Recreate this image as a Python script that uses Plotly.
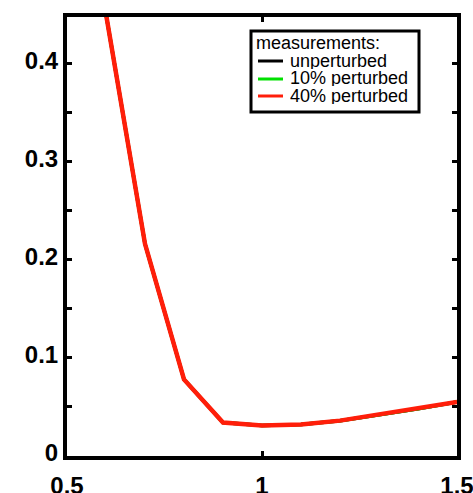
import plotly.graph_objects as go

# Parameter values and the measured quantity for each measurement set
x_values = [0.6, 0.7, 0.8, 0.9, 1.0, 1.1, 1.2, 1.3, 1.4, 1.5]
unperturbed = [0.45, 0.216, 0.078, 0.034, 0.031, 0.032, 0.036, 0.042, 0.048, 0.055]
perturbed_10 = [0.45, 0.216, 0.078, 0.034, 0.031, 0.032, 0.036, 0.042, 0.048, 0.055]
perturbed_40 = [0.45, 0.216, 0.078, 0.034, 0.031, 0.032, 0.036, 0.042, 0.048, 0.055]

series_names = ["unperturbed", "10% perturbed", "40% perturbed"]
series_colors = ["#000000", "#00e000", "#ff1e0a"]
series_widths = [3.5, 3.5, 4.5]
legend_title = "measurements:"

x_ticks = [0.5, 1, 1.5]
x_tick_text = ["0.5", "1", "1.5"]
y_ticks = [0, 0.1, 0.2, 0.3, 0.4]
y_tick_text = ["0", "0.1", "0.2", "0.3", "0.4"]

fig = go.Figure()
for name, ys, color, w in zip(series_names, [unperturbed, perturbed_10, perturbed_40],
                              series_colors, series_widths):
    fig.add_trace(go.Scatter(x=x_values, y=ys, mode="lines", name=name,
                             line=dict(color=color, width=w), showlegend=False))

axis_common = dict(showline=True, linewidth=4, linecolor="black", mirror="allticks",
                   ticks="inside", ticklen=5, tickwidth=3, tickcolor="black",
                   showgrid=False, zeroline=False, automargin=False,
                   ticklabeloverflow="allow",
                   tickfont=dict(family="Liberation Sans, Arial", size=24, color="black", weight="bold"))

fig.update_xaxes(range=[0.5, 1.5], tickvals=x_ticks, ticktext=x_tick_text,
                 ticklabelstandoff=5, **axis_common)
fig.update_yaxes(range=[0, 0.447], tickvals=y_ticks, ticktext=y_tick_text,
                 ticklabelshift=-3,
                 minor=dict(dtick=0.05, ticks="inside", ticklen=5, tickwidth=3, tickcolor="black"),
                 **axis_common)

# Boxed key in the upper right of the plot area
L, T, W, H = 67, 17, 390, 439  # plot area in pixels
def px_x(p):
    return (p - L) / W
def px_y(p):
    return (T + H - p) / H

box = dict(x0=251, x1=419, y0=31, y1=112)
fig.add_shape(type="rect", xref="paper", yref="paper",
              x0=px_x(box["x0"]), x1=px_x(box["x1"]), y0=px_y(box["y1"]), y1=px_y(box["y0"]),
              line=dict(color="black", width=3), fillcolor="white", layer="above")

legend_font = dict(family="Liberation Sans, Arial", size=18, color="black")
fig.add_annotation(xref="paper", yref="paper", x=px_x(255), y=px_y(42), text=legend_title,
                   showarrow=False, xanchor="left", yanchor="middle", font=legend_font,
                   height=17, borderpad=0)
row_y = [60, 78, 95]
for name, color, ry in zip(series_names, series_colors, row_y):
    fig.add_shape(type="line", xref="paper", yref="paper",
                  x0=px_x(258), x1=px_x(283), y0=px_y(ry + 1), y1=px_y(ry + 1),
                  line=dict(color=color, width=3), layer="above")
    fig.add_annotation(xref="paper", yref="paper", x=px_x(289), y=px_y(ry), text=name,
                       showarrow=False, xanchor="left", yanchor="middle", font=legend_font,
                       height=17, borderpad=0)

fig.update_layout(width=473, height=493, margin=dict(l=L, r=473 - L - W, t=T, b=493 - T - H),
                  plot_bgcolor="white", paper_bgcolor="white", showlegend=False)

fig.write_html("out.html")
